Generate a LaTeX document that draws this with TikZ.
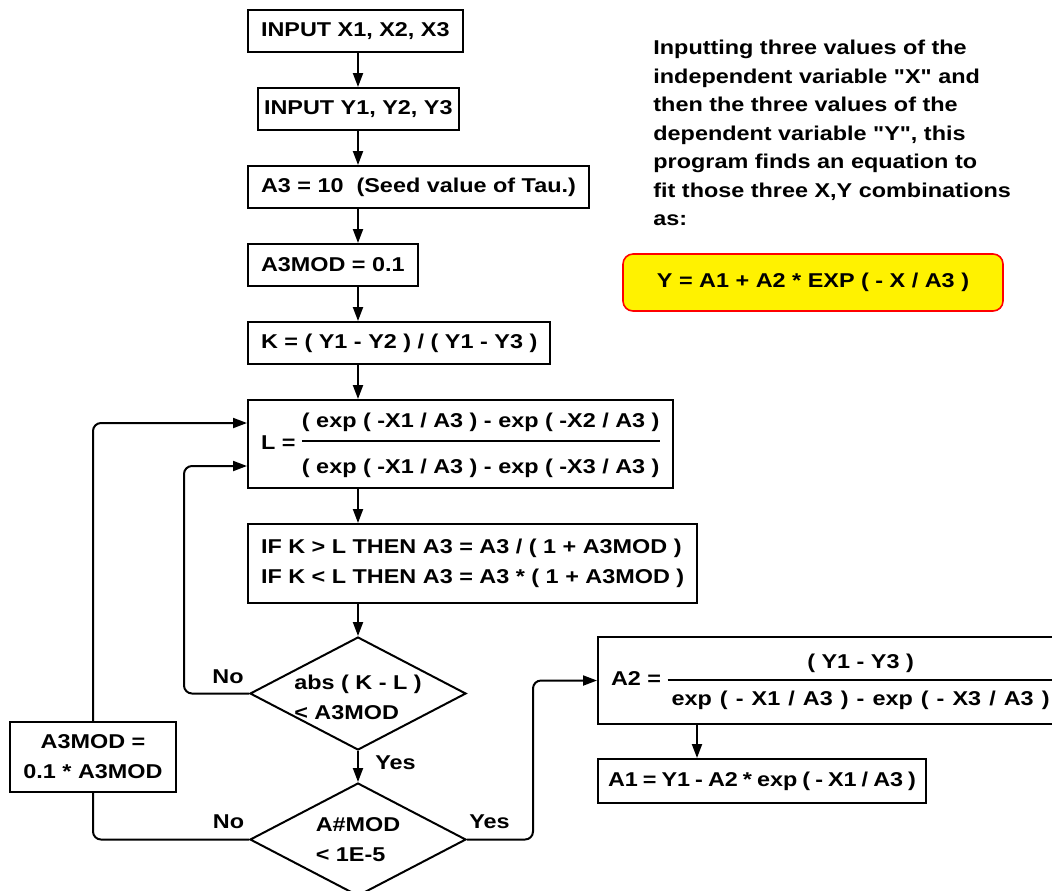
\documentclass[tikz,border=0pt]{standalone}
\usepackage{fontspec}
\newfontfamily\fcfont{Liberation Sans}[FakeStretch=1.17]
\usetikzlibrary{positioning,arrows.meta,shapes.geometric}
\setlength{\arrayrulewidth}{1pt}

\begin{document}
\begin{tikzpicture}[
    x=0.5pt, y=-0.5pt,
    >={Triangle[length=7pt,width=5pt]},
    every node/.style={font=\fcfont\bfseries\fontsize{10}{15}\selectfont},
    box/.style={draw, line width=1pt, minimum height=21pt, inner xsep=6.5pt, inner ysep=3pt},
    stepbox/.style={box, align=left},
    decision/.style={diamond, draw, line width=1pt, minimum width=108pt, minimum height=56.5pt, inner sep=0pt},
    eqbox/.style={draw=red, fill=yellow, line width=0.8pt, rounded corners=5pt, minimum width=190pt, minimum height=28.5pt},
    lbl/.style={inner sep=1pt},
    flowarrow/.style={->, line width=1pt, black},
    loopline/.style={line width=1pt, rounded corners=4pt},
]

\useasboundingbox (0,0) rectangle (1052,890);
\clip (0,0) rectangle (1052,890);

\coordinate (spine) at (358,0);

% ---- Main column ----
\node[box, anchor=north west] (inx) at (247,9) {INPUT X1, X2, X3};
\node[box, inner xsep=3pt, below=17pt of inx.south west, anchor=north west, xshift=5pt] (iny) {INPUT Y1, Y2, Y3};
\node[box, below=17pt of iny.south west, anchor=north west, xshift=-5pt] (seed) {A3 = 10\ \ (Seed value of Tau.)};
\node[box, below=17pt of seed.south west, anchor=north west] (mod) {A3MOD = 0.1};
\node[box, below=17pt of mod.south west, anchor=north west] (kval) {K = ( Y1 - Y2 ) / ( Y1 - Y3 )};
\node[box, minimum height=44pt, below=17pt of kval.south west, anchor=north west] (lval) {L = \begin{tabular}{@{}c@{}}( exp ( -X1 / A3 ) - exp ( -X2 / A3 )\rule[-6.4pt]{0pt}{1pt}\\\hline\rule{0pt}{15.6pt}( exp ( -X1 / A3 ) - exp ( -X3 / A3 )\end{tabular}};
\node[stepbox, minimum height=39.5pt, below=17pt of lval.south west, anchor=north west] (adj) {IF K > L THEN A3 = A3 / ( 1 + A3MOD )\\IF K < L THEN A3 = A3 * ( 1 + A3MOD )};
\node[decision, anchor=north] (ck1) at ([yshift=-16pt]spine |- adj.south) {};
\node[decision, anchor=north] (ck2) at ([yshift=-15.5pt]ck1.south) {};
\node[align=left, yshift=-2pt] (ck1txt) at (ck1) {abs ( K - L )\\< A3MOD};
\node[align=left] (ck2txt) at (ck2) {A\#MOD\\< 1E-5};

\foreach \a/\b in {inx/iny, iny/seed, seed/mod, mod/kval, kval/lval, lval/adj, adj/ck1, ck1/ck2}
  \draw[flowarrow] (spine |- \a.south) -- (spine |- \b.north);

% Branch labels
\node[lbl, above left=3.75pt and 1.5pt of ck1.west] (no1) {No};
\node[lbl, below right=1pt and 7.5pt of ck1.south] (yes1) {Yes};
\node[lbl, above left=4.25pt and 1.25pt of ck2.west] (no2) {No};
\node[lbl, above right=4.25pt and 0pt of ck2.east] (yes2) {Yes};

% ---- Loops back into L ----
\node[box, align=center, minimum height=35pt, minimum width=81pt] (fixmod) at (93,757) {A3MOD =\\0.1 * A3MOD};
\draw[loopline] (ck2.west) -| (fixmod.south);
\draw[flowarrow, loopline] (fixmod.north) |- ([yshift=10.5pt]lval.west);
\draw[flowarrow, loopline] (ck1.west) -- ++(-32.5pt,0) |- ([yshift=-11pt]lval.west);

% ---- Result ----
\node[box, minimum height=43.5pt, anchor=west] (atwo) at (597,680.5) {A2 = \begin{tabular}{@{\hspace{2pt}}c@{\hspace{4pt}}}( Y1 - Y3 )\rule[-5.4pt]{0pt}{1pt}\\\hline\rule{0pt}{12.1pt}\makebox[189pt][s]{exp ( - X1 / A3 ) - exp ( - X3 / A3 )}\end{tabular}};
\node[box, minimum height=22pt, inner xsep=5pt, below=16.5pt of atwo.south west, anchor=north west] (aone) {\makebox[154pt][s]{A1 = Y1 - A2 * exp ( - X1 / A3 )}};
\draw[flowarrow] ([xshift=50pt]atwo.south west) -- ([xshift=50pt]aone.north west);
\draw[flowarrow, loopline] (ck2.east) -- ++(33pt,0) |- (atwo.west);

% ---- Description ----
\node[anchor=north west, align=left, inner sep=0pt, font=\fcfont\bfseries\fontsize{10}{14.25}\selectfont] (intro) at (653,40) {Inputting three values of the\\independent variable "X" and\\then the three values of the\\dependent variable "Y", this\\program finds an equation to\\fit those three X,Y combinations\\as:};
\node[eqbox] (model) at (813,282.5) {Y = A1 + A2 * EXP ( - X / A3 )};

\end{tikzpicture}
\end{document}
